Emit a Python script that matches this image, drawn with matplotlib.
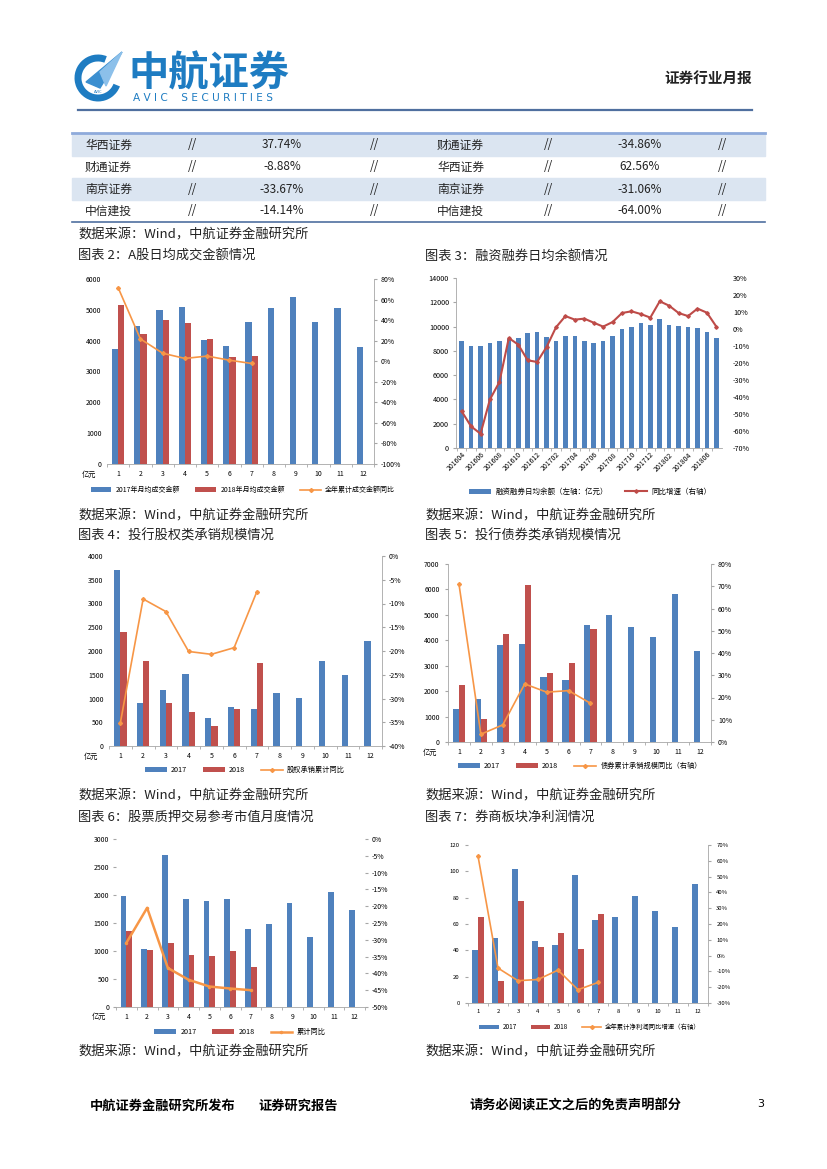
import numpy as np
import matplotlib
matplotlib.use('Agg')
import matplotlib.pyplot as plt
from matplotlib.patches import Rectangle, Polygon, Arc
from matplotlib.ticker import PercentFormatter, FixedLocator

plt.rcParams['font.family'] = ['Noto Sans CJK SC', 'DejaVu Sans']
plt.rcParams['axes.unicode_minus'] = False

W, H = 827, 1169
BLUE = '#4f81bd'
RED = '#c0504d'
ORANGE = '#f79646'
GRAY = '#a6a6a6'
TICK_FS = 5

# ---------------- 数据 ----------------
table_rows = [
    ['华西证券', '//', '37.74%', '//', '财通证券', '//', '-34.86%', '//'],
    ['财通证券', '//', '-8.88%', '//', '华西证券', '//', '62.56%', '//'],
    ['南京证券', '//', '-33.67%', '//', '南京证券', '//', '-31.06%', '//'],
    ['中信建投', '//', '-14.14%', '//', '中信建投', '//', '-64.00%', '//'],
]

months = list(range(1, 13))

# 图表2 A股日均成交金额
turnover_2017 = [3720, 4460, 5010, 5080, 4020, 3820, 4620, 5070, 5430, 4620, 5070, 3790]
turnover_2018 = [5170, 4230, 4660, 4560, 4050, 3460, 3490]
turnover_yoy = [71.6, 21.7, 7.8, 2.7, 5.0, 1.0, -2.2]

# 图表3 融资融券日均余额
margin_months = ['201604', '201605', '201606', '201607', '201608', '201609', '201610',
                 '201611', '201612', '201701', '201702', '201703', '201704', '201705',
                 '201706', '201707', '201708', '201709', '201710', '201711', '201712',
                 '201801', '201802', '201803', '201804', '201805', '201806', '201807']
margin_balance = [8790, 8380, 8380, 8680, 8850, 8950, 9040, 9450, 9590, 9120, 8850, 9200,
                  9260, 8850, 8680, 8850, 9200, 9780, 9950, 10270, 10160, 10600, 10110,
                  10030, 9950, 9860, 9530, 9040]
margin_yoy = [-48.4, -57.3, -61.6, -41.4, -31.2, -5.3, -9.2, -18.4, -19.4, -10.6, 1.0, 7.6,
              5.5, 6.1, 3.7, 1.4, 4.1, 9.4, 10.4, 8.8, 6.7, 16.3, 13.7, 9.4, 7.6, 12.0, 9.6, 1.4]

# 图表4 股权承销
equity_2017 = [3700, 905, 1180, 1515, 590, 830, 780, 1115, 1010, 1790, 1495, 2220]
equity_2018 = [2400, 1790, 905, 715, 420, 780, 1750]
equity_yoy = [-35.1, -9.05, -11.7, -20.1, -20.7, -19.3, -7.5]

# 图表5 债券承销
bond_2017 = [1300, 1700, 3820, 3860, 2560, 2450, 4610, 5000, 4530, 4140, 5830, 3590]
bond_2018 = [2250, 910, 4260, 6180, 2730, 3120, 4460]
bond_yoy = [71.0, 3.5, 7.7, 26.1, 22.4, 23.1, 17.4]

# 图表6 股票质押参考市值
pledge_2017 = [1980, 1030, 2710, 1925, 1890, 1925, 1390, 1480, 1855, 1245, 2050, 1730]
pledge_2018 = [1355, 1015, 1140, 925, 905, 995, 710]
pledge_yoy = [-30.9, -20.5, -38.4, -41.9, -43.9, -44.5, -45.0]

# 图表7 券商净利润
profit_2017 = [40.4, 49.5, 101.8, 47.2, 44.2, 97.3, 63.2, 65.4, 81.4, 70.0, 57.9, 90.4]
profit_2018 = [65.4, 16.9, 77.6, 42.7, 53.3, 41.2, 67.7]
profit_yoy = [63.0, -7.9, -15.9, -15.1, -9.2, -21.6, -17.0]

fig = plt.figure(figsize=(8.27, 11.69), dpi=100)


def fx(x):
    return x / W


def fy(y):
    return 1 - y / H


def px_axes(l, t, r, b):
    return fig.add_axes([fx(l), fy(b), (r - l) / W, (b - t) / H])


def ftext(x, y, s, **kw):
    fig.text(fx(x), fy(y), s, **kw)


# ---------------- 页眉 ----------------
logo_c = (98, 78)
fig.patches.append(Arc((fx(logo_c[0]), fy(logo_c[1])), 40 / W, 40 / H, theta1=60, theta2=345,
                       lw=5, color='#1e7cc2', transform=fig.transFigure))
fig.patches.append(Polygon([(fx(86), fy(82)), (fx(122), fy(52)), (fx(100), fy(88))],
                           closed=True, color='#3b8fd0', transform=fig.transFigure))
fig.patches.append(Polygon([(fx(100), fy(72)), (fx(122), fy(52)), (fx(106), fy(86))],
                           closed=True, color='#8cc0ea', transform=fig.transFigure))
ftext(98, 92, 'AVIC', fontsize=3, color='#1e7cc2', ha='center', va='center')
ftext(128, 74, '中航证券', fontsize=29, fontweight='bold', color='#1e7cc2', va='center')
ftext(133, 98, 'A V I C    S E C U R I T I E S', fontsize=7.6, color='#1e7cc2',
      va='center', family=['DejaVu Sans'])
ftext(752, 78, '证券行业月报', fontsize=10.5, fontweight='bold', color='#222222',
      ha='right', va='center')
fig.add_artist(plt.Line2D([fx(78), fx(752)], [fy(110), fy(110)], color='#4f6f9f', lw=1.6))

# ---------------- 表格 ----------------
row_top = 134
row_h = 22
col_x = [85, 192, 282, 375, 437, 548, 640, 722]
col_ha = ['left', 'center', 'center', 'center', 'left', 'center', 'center', 'center']
for i, row in enumerate(table_rows):
    y0 = row_top + i * row_h
    if i % 2 == 0:
        fig.patches.append(Rectangle((fx(72), fy(y0 + row_h)), (765 - 72) / W, row_h / H,
                                     color='#dbe5f1', transform=fig.transFigure, zorder=0))
    for j, cell in enumerate(row):
        ftext(col_x[j], y0 + row_h / 2, cell, fontsize=8.5, color='#222222',
              ha=col_ha[j], va='center')
fig.add_artist(plt.Line2D([fx(72), fx(765)], [fy(133), fy(133)], color='#8eaadb', lw=2))
fig.add_artist(plt.Line2D([fx(72), fx(765)], [fy(222), fy(222)], color='#4f6f9f', lw=1.2))

ftext(78, 235, '数据来源：Wind，中航证券金融研究所', fontsize=9.5, va='center', color='#222222')
ftext(78, 256, '图表 2：A股日均成交金额情况', fontsize=9.5, va='center', color='#222222')
ftext(425, 256, '图表 3：融资融券日均余额情况', fontsize=9.5, va='center', color='#222222')


def month_bars(ax, v17, v18, ymax, ystep, unit=True):
    x = np.array(months)
    ax.bar(x - 0.14, v17, width=0.28, color=BLUE, label='2017', zorder=2)
    ax.bar(np.arange(1, len(v18) + 1) + 0.14, v18, width=0.28, color=RED, label='2018', zorder=2)
    ax.set_xlim(0.5, 12.5)
    ax.set_ylim(0, ymax)
    ax.set_yticks(np.arange(0, ymax + 1e-9, ystep))
    ax.set_xticks(x)
    ax.xaxis.set_minor_locator(FixedLocator(np.arange(0.5, 13, 1)))
    ax.tick_params(axis='x', which='major', length=0, labelsize=TICK_FS, pad=4)
    ax.tick_params(axis='x', which='minor', length=2.5, color=GRAY)
    ax.tick_params(axis='y', length=0, labelsize=TICK_FS, pad=4)
    for s in ['top', 'right', 'left']:
        ax.spines[s].set_visible(False)
    ax.spines['bottom'].set_color(GRAY)
    ax.spines['bottom'].set_linewidth(0.6)
    if unit:
        ax.text(-0.04, -0.06, '亿元', transform=ax.transAxes, fontsize=5.2,
                ha='right', va='center')


def pct_axis(ax, lo, hi, step, spine=True):
    ax2 = ax.twinx()
    ax2.set_ylim(lo, hi)
    ax2.set_yticks(np.arange(lo, hi + 1e-9, step))
    ax2.yaxis.set_major_formatter(PercentFormatter(decimals=0))
    ax2.tick_params(axis='y', length=2, color=GRAY, labelsize=TICK_FS, pad=3)
    for s in ['top', 'left', 'bottom']:
        ax2.spines[s].set_visible(False)
    ax2.spines['right'].set_visible(spine)
    ax2.spines['right'].set_color(GRAY)
    ax2.spines['right'].set_linewidth(0.6)
    return ax2


def legend_at(ax, handles, labels, x, y, fs=5.2):
    ax.legend(handles, labels, loc='center', bbox_to_anchor=(fx(x), fy(y)),
              bbox_transform=fig.transFigure, ncol=len(handles), frameon=False,
              fontsize=fs, handlelength=3, handleheight=0.6, columnspacing=2.2,
              handletextpad=0.6)


# ---------------- 图表2 ----------------
ax = px_axes(107, 279, 374, 464)
month_bars(ax, turnover_2017, turnover_2018, 6000, 1000)
ax2 = pct_axis(ax, -100, 80, 20)
ln, = ax2.plot(range(1, len(turnover_yoy) + 1), turnover_yoy, color=ORANGE, lw=1.2,
               marker='D', ms=2)
h1, _ = ax.get_legend_handles_labels()
legend_at(ax2, h1 + [ln], ['2017年月均成交金额', '2018年月均成交金额', '全年累计成交金额同比'],
          243, 490, fs=5)

# ---------------- 图表3 ----------------
ax = px_axes(456, 278, 722, 448)
xm = np.arange(len(margin_months))
b = ax.bar(xm, margin_balance, width=0.48, color=BLUE, zorder=2)
ax.set_xlim(-0.6, len(margin_months) - 0.4)
ax.set_ylim(0, 14000)
ax.set_yticks(np.arange(0, 14001, 2000))
ax.set_xticks(xm[::2])
ax.set_xticklabels(margin_months[::2], rotation=45, ha='right', rotation_mode='anchor')
ax.xaxis.set_minor_locator(FixedLocator(xm - 0.5))
ax.tick_params(axis='x', which='major', length=0, labelsize=TICK_FS, pad=2)
ax.tick_params(axis='x', which='minor', length=2, color=GRAY)
ax.tick_params(axis='y', length=2, color=GRAY, labelsize=5.2, pad=3)
for s in ['top', 'right']:
    ax.spines[s].set_visible(False)
for s in ['left', 'bottom']:
    ax.spines[s].set_color(GRAY)
    ax.spines[s].set_linewidth(0.6)
ax2 = pct_axis(ax, -70, 30, 10, spine=False)
ax2.tick_params(axis='y', length=0, labelsize=5.2, pad=8)
ln, = ax2.plot(xm, margin_yoy, color='#be4b48', lw=1.5, marker='D', ms=1.8)
legend_at(ax2, [b, ln], ['融资融券日均余额（左轴：亿元）', '同比增速（右轴）'], 590, 492, fs=5.4)

ftext(78, 516, '数据来源：Wind，中航证券金融研究所', fontsize=9.5, va='center', color='#222222')
ftext(425, 516, '数据来源：Wind，中航证券金融研究所', fontsize=9.5, va='center', color='#222222')
ftext(78, 536, '图表 4：投行股权类承销规模情况', fontsize=9.5, va='center', color='#222222')
ftext(425, 536, '图表 5：投行债券类承销规模情况', fontsize=9.5, va='center', color='#222222')

# ---------------- 图表4 ----------------
ax = px_axes(109, 556, 382, 746)
month_bars(ax, equity_2017, equity_2018, 4000, 500)
ax2 = pct_axis(ax, -40, 0, 5)
ln, = ax2.plot(range(1, len(equity_yoy) + 1), equity_yoy, color=ORANGE, lw=1.2,
               marker='D', ms=2)
h1, _ = ax.get_legend_handles_labels()
legend_at(ax2, h1 + [ln], ['2017', '2018', '股权承销累计同比'], 245, 770)

# ---------------- 图表5 ----------------
ax = px_axes(448, 564, 711, 742)
month_bars(ax, bond_2017, bond_2018, 7000, 1000)
ax.spines['left'].set_visible(True)
ax.spines['left'].set_color(GRAY)
ax.spines['left'].set_linewidth(0.6)
ax.tick_params(axis='y', length=2, color=GRAY)
ax2 = pct_axis(ax, 0, 80, 10)
ln, = ax2.plot(range(1, len(bond_yoy) + 1), bond_yoy, color=ORANGE, lw=1.2,
               marker='D', ms=2)
h1, _ = ax.get_legend_handles_labels()
legend_at(ax2, h1 + [ln], ['2017', '2018', '债券累计承销规模同比（右轴）'], 580, 766)

ftext(78, 796, '数据来源：Wind，中航证券金融研究所', fontsize=9.5, va='center', color='#222222')
ftext(425, 796, '数据来源：Wind，中航证券金融研究所', fontsize=9.5, va='center', color='#222222')
ftext(78, 817, '图表 6：股票质押交易参考市值月度情况', fontsize=9.5, va='center', color='#222222')
ftext(425, 817, '图表 7：券商板块净利润情况', fontsize=9.5, va='center', color='#222222')

# ---------------- 图表6 ----------------
ax = px_axes(116, 839, 365, 1007)
month_bars(ax, pledge_2017, pledge_2018, 3000, 500)
ax.tick_params(axis='y', length=2, color=GRAY, pad=3)
ax2 = pct_axis(ax, -50, 0, 5, spine=False)
ax2.tick_params(axis='y', length=2, pad=3)
ln, = ax2.plot(range(1, len(pledge_yoy) + 1), pledge_yoy, color=ORANGE, lw=1.8,
               marker='o', ms=1.5)
h1, _ = ax.get_legend_handles_labels()
legend_at(ax2, h1 + [ln], ['2017', '2018', '累计同比'], 240, 1032)

# ---------------- 图表7 ----------------
ax = px_axes(468, 845, 708, 1003)
month_bars(ax, profit_2017, profit_2018, 120, 20, unit=False)
ax.tick_params(axis='y', length=2, color=GRAY, labelsize=4.3, pad=4)
ax.tick_params(axis='x', which='major', labelsize=4.3)
ax2 = pct_axis(ax, -30, 70, 10)
ax2.tick_params(axis='y', labelsize=4.3, pad=4)
ln, = ax2.plot(range(1, len(profit_yoy) + 1), profit_yoy, color=ORANGE, lw=1.2,
               marker='D', ms=2)
h1, _ = ax.get_legend_handles_labels()
legend_at(ax2, h1 + [ln], ['2017', '2018', '全年累计净利润同比增速（右轴）'], 590, 1027, fs=4.6)

ftext(78, 1052, '数据来源：Wind，中航证券金融研究所', fontsize=9.5, va='center', color='#222222')
ftext(425, 1052, '数据来源：Wind，中航证券金融研究所', fontsize=9.5, va='center', color='#222222')

# ---------------- 页脚 ----------------
ftext(90, 1106, '中航证券金融研究所发布', fontsize=9.5, fontweight='bold', va='center')
ftext(258, 1106, '证券研究报告', fontsize=9.5, fontweight='bold', va='center')
ftext(470, 1106, '请务必阅读正文之后的免责声明部分', fontsize=9.5, fontweight='bold', va='center')
ftext(757, 1104, '3', fontsize=8, va='center', family=['DejaVu Sans'])

plt.savefig('out.png', dpi=100)
plt.close()
